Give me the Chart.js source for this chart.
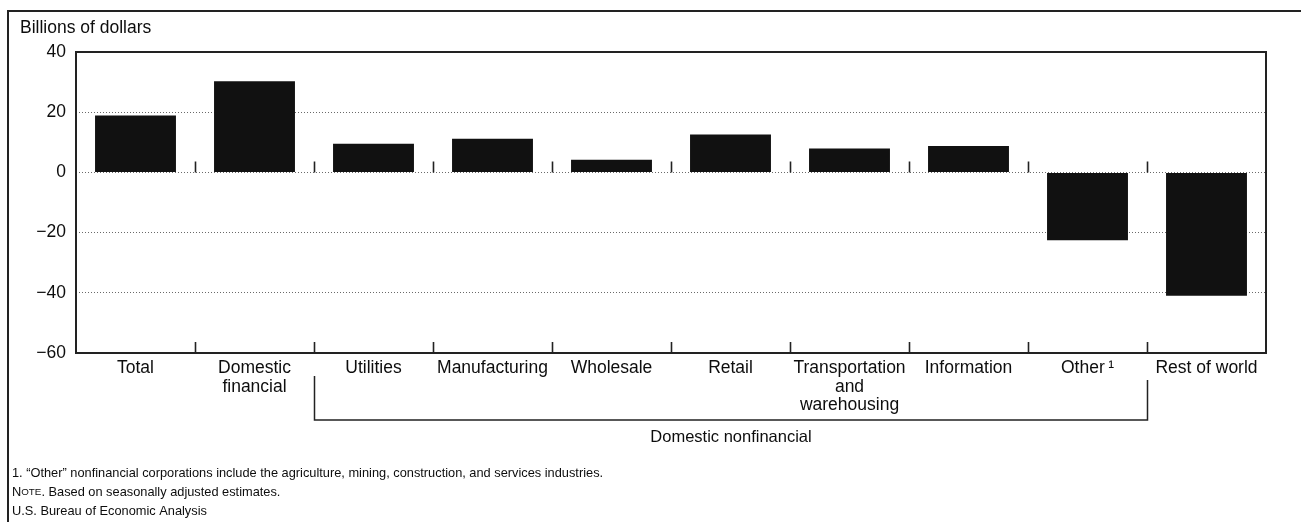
<!DOCTYPE html>
<html>
<head>
<meta charset="utf-8">
<script src="https://cdn.jsdelivr.net/npm/chart.js@4.4.1/dist/chart.umd.min.js"></script>
<style>
  html, body { margin: 0; padding: 0; background: #fff; }
  #wrap { width: 1301px; height: 522px; }
</style>
</head>
<body>
<div id="wrap"><canvas id="chartProfits" width="1301" height="522"></canvas></div>
<script>
// ── DATA ─────────────────────────────────────────
const categories = [
  'Total', ['Domestic', 'financial'], 'Utilities', 'Manufacturing', 'Wholesale',
  'Retail', ['Transportation', 'and', 'warehousing'], 'Information', 'Other\u2009\u00b9', 'Rest of world'
];
const profitChange = [18.9, 30.3, 9.5, 11.2, 4.2, 12.6, 7.9, 8.8, -22.5, -41.0];
const yTicks = [40, 20, 0, -20, -40, -60];
const unitLabel = 'Billions of dollars';
const groupLabel = 'Domestic nonfinancial';
const groupFirst = 2, groupLast = 8;   // bracket covers Utilities .. Other
const footnote1 = '1. \u201cOther\u201d nonfinancial corporations include the agriculture, mining, construction, and services industries.';
const noteText = 'Based on seasonally adjusted estimates.';
const sourceText = 'U.S. Bureau of Economic Analysis';

const FONT = '"Liberation Sans", Arial, Helvetica, sans-serif';
const INK  = '#0d0d0d';

// ── EXTRA DRAWING (frame, ticks, bracket, notes) ─
const decorPlugin = {
  id: 'decor',
  afterDatasetsDraw(chart) {
    const { ctx, chartArea: a, scales: { x, y } } = chart;
    const zero = y.getPixelForValue(0);
    const bound = i => (x.getPixelForValue(i) + x.getPixelForValue(i + 1)) / 2;
    ctx.save();
    ctx.strokeStyle = '#222';

    // plot frame
    ctx.lineWidth = 2;
    ctx.strokeRect(a.left, a.top, a.right - a.left, a.bottom - a.top);

    // small ticks between categories, on the zero line and on the bottom axis
    ctx.lineWidth = 1.6;
    ctx.beginPath();
    for (let i = 0; i < categories.length - 1; i++) {
      const bx = Math.round(bound(i)) + 0.5;
      ctx.moveTo(bx, zero - 11); ctx.lineTo(bx, zero);
      ctx.moveTo(bx, a.bottom - 11); ctx.lineTo(bx, a.bottom);
    }
    ctx.stroke();

    // bracket under the domestic nonfinancial group
    const bl = Math.round(bound(groupFirst - 1)) + 0.5;
    const br = Math.round(bound(groupLast)) + 0.5;
    ctx.lineWidth = 1.5;
    ctx.beginPath();
    ctx.moveTo(bl, a.bottom + 23); ctx.lineTo(bl, a.bottom + 67);
    ctx.lineTo(br, a.bottom + 67); ctx.lineTo(br, a.bottom + 27);
    ctx.stroke();

    ctx.fillStyle = INK;
    ctx.textBaseline = 'middle';
    ctx.textAlign = 'center';
    ctx.font = '16.5px ' + FONT;
    ctx.fillText(groupLabel, (bl + br) / 2, a.bottom + 84);

    // unit label
    ctx.textAlign = 'left';
    ctx.font = '17.5px ' + FONT;
    ctx.fillText(unitLabel, 20, 28);

    // footnotes
    ctx.font = '12.8px ' + FONT;
    ctx.fillText(footnote1, 12, 473);
    ctx.fillText('N', 12, 492);
    let nx = 12 + ctx.measureText('N').width;
    ctx.font = '9.8px ' + FONT;
    ctx.fillText('OTE', nx, 492);
    nx += ctx.measureText('OTE').width;
    ctx.font = '12.8px ' + FONT;
    ctx.fillText('. ' + noteText, nx, 492);
    ctx.fillText(sourceText, 12, 511);

    // outer figure frame
    ctx.lineWidth = 2;
    ctx.beginPath();
    ctx.moveTo(8, 522); ctx.lineTo(8, 11); ctx.lineTo(1301, 11);
    ctx.stroke();
    ctx.restore();
  }
};

new Chart(document.getElementById('chartProfits'), {
  type: 'bar',
  data: {
    labels: categories,
    datasets: [{
      data: profitChange,
      backgroundColor: '#111',
      borderWidth: 0,
      barPercentage: 0.68,
      categoryPercentage: 1
    }]
  },
  options: {
    responsive: false,
    animation: false,
    layout: { padding: { top: 52, right: 35, left: 0, bottom: 0 } },
    plugins: { legend: { display: false }, tooltip: { enabled: false } },
    scales: {
      x: {
        grid: { display: false, drawTicks: false },
        border: { display: false },
        ticks: {
          autoSkip: false, maxRotation: 0, minRotation: 0, padding: 6,
          color: INK, font: { family: FONT, size: 17.5, lineHeight: 1.06 }
        },
        afterFit: s => { s.height = 169; }
      },
      y: {
        min: -60, max: 40,
        afterBuildTicks: s => { s.ticks = yTicks.map(v => ({ value: v })); },
        grid: {
          drawTicks: false, lineWidth: 1,
          color: c => (c.tick && (c.tick.value === 40 || c.tick.value === -60)) ? 'rgba(0,0,0,0)' : '#6a6a6a'
        },
        border: { display: false, dash: [1, 2] },
        ticks: {
          padding: 10, color: INK, font: { family: FONT, size: 17.5 },
          callback: v => (v < 0 ? '\u2212' + Math.abs(v) : String(v))
        },
        afterFit: s => { s.width = 76; }
      }
    }
  },
  plugins: [decorPlugin]
});
</script>
</body>
</html>
